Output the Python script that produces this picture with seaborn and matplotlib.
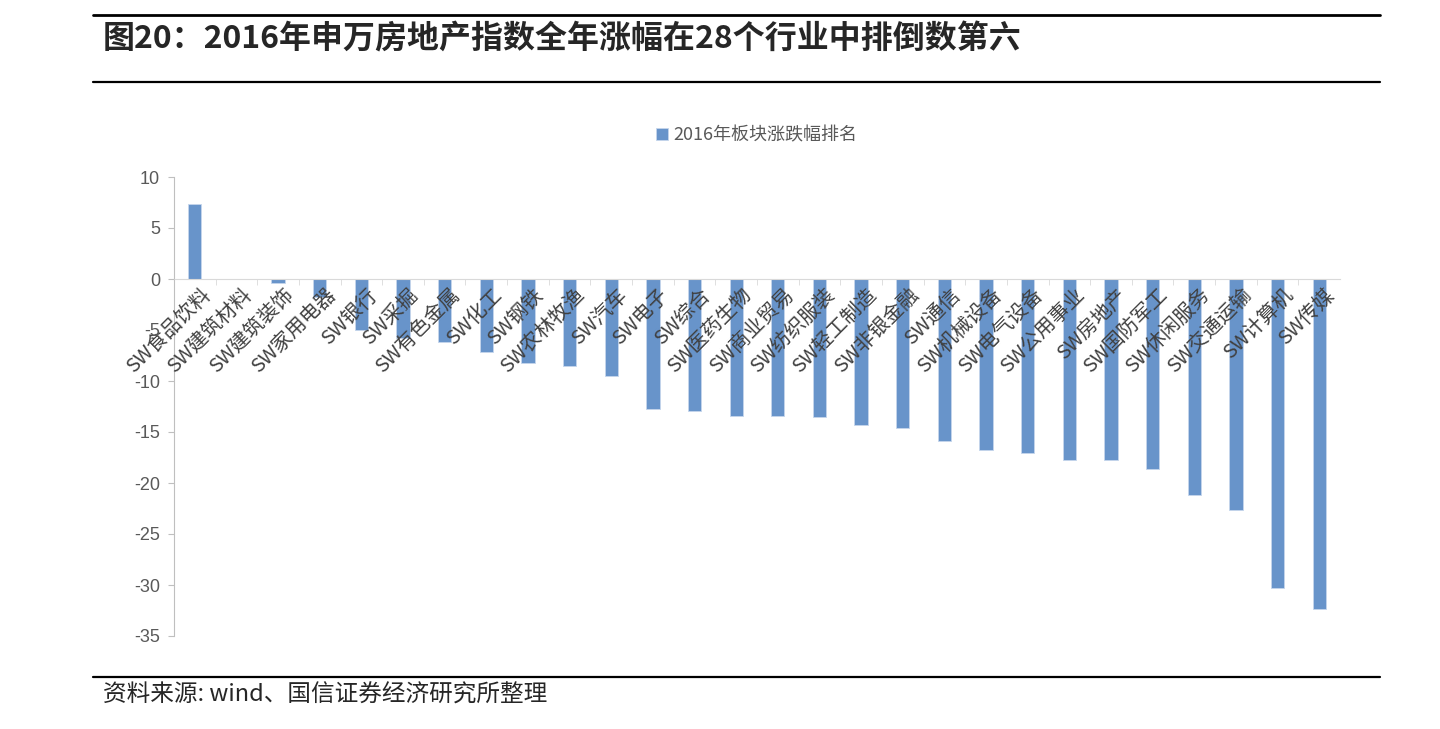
import matplotlib
matplotlib.use("Agg")
import matplotlib.pyplot as plt
import seaborn as sns
import pandas as pd
import numpy as np
from matplotlib.lines import Line2D
from matplotlib.ticker import FixedLocator

sns.set_style("white")
plt.rcParams['font.family'] = ['Noto Sans CJK SC', 'DejaVu Sans']

categories = ["SW食品饮料", "SW建筑材料", "SW建筑装饰", "SW家用电器", "SW银行", "SW采掘",
              "SW有色金属", "SW化工", "SW钢铁", "SW农林牧渔", "SW汽车", "SW电子", "SW综合",
              "SW医药生物", "SW商业贸易", "SW纺织服装", "SW轻工制造", "SW非银金融", "SW通信",
              "SW机械设备", "SW电气设备", "SW公用事业", "SW房地产", "SW国防军工", "SW休闲服务",
              "SW交通运输", "SW计算机", "SW传媒"]
values = [7.4, 0.02, -0.4, -1.8, -5.0, -5.8, -6.2, -7.2, -8.2, -8.5, -9.5, -12.7, -12.9,
          -13.4, -13.4, -13.5, -14.3, -14.6, -15.9, -16.8, -17.1, -17.7, -17.7, -18.6,
          -21.2, -22.6, -30.3, -32.4]
yticks = [10, 5, 0, -5, -10, -15, -20, -25, -30, -35]
series_name = "2016年板块涨跌幅排名"
title = "图20：2016年申万房地产指数全年涨幅在28个行业中排倒数第六"
source = "资料来源: wind、国信证券经济研究所整理"

df = pd.DataFrame({"cat": categories, "val": values})

W, H = 1440, 729
fig = plt.figure(figsize=(W / 100, H / 100), dpi=100)
ax = fig.add_axes([174 / W, (H - 636) / H, (1340 - 174) / W, (636 - 177) / H])

sns.barplot(data=df, x="cat", y="val", color="#6894CA", width=0.32, ax=ax,
            label=series_name, saturation=1, edgecolor="#C5D6EC", linewidth=0.6)
ax.set_axisbelow(False)

ax.set_ylim(-35, 10)
ax.set_xlim(-0.5, len(categories) - 0.5)
ax.set_yticks(yticks)
ax.set_yticklabels([str(v) for v in yticks], fontsize=13, color="#595959",
                   family=['Liberation Sans', 'DejaVu Sans'])
ax.set_xlabel("")
ax.set_ylabel("")

for s in ["top", "right"]:
    ax.spines[s].set_visible(False)
ax.spines["left"].set_color("#BFBFBF")
ax.spines["bottom"].set_color("#D9D9D9")
ax.spines["bottom"].set_position(("data", 0))
ax.tick_params(axis="y", length=4, color="#BFBFBF", left=True, pad=6)
ax.tick_params(axis="x", which="major", length=0, pad=4)
ax.xaxis.set_minor_locator(FixedLocator(np.arange(0.5, len(categories) - 0.5, 1.0)))
ax.tick_params(axis="x", which="minor", length=4, color="#D9D9D9", bottom=True)

ax.set_xticks(range(len(categories)))
ax.set_xticklabels(categories, rotation=45, ha="right", va="top",
                   rotation_mode="anchor", fontsize=14.5, color="#404040")
for lbl in ax.get_xticklabels():
    lbl.set_transform(lbl.get_transform() + matplotlib.transforms.ScaledTranslation(0.05, 0, fig.dpi_scale_trans))

leg = ax.legend(loc="upper center", bbox_to_anchor=(0.5, 1.0 + (177 - 110) / (636 - 177)),
                frameon=False, fontsize=13, handlelength=0.65, handleheight=0.65,
                handletextpad=0.3)
for t in leg.get_texts():
    t.set_color("#595959")

# title & rules
fig.text(103 / W, 1 - 40 / H, title, fontsize=23, fontweight="bold", va="center", ha="left")
fig.add_artist(Line2D([93 / W, 1380 / W], [1 - 15 / H, 1 - 15 / H], color="black", lw=2))
fig.add_artist(Line2D([93 / W, 1380 / W], [1 - 82 / H, 1 - 82 / H], color="black", lw=1.6))
fig.add_artist(Line2D([93 / W, 1380 / W], [1 - 677 / H, 1 - 677 / H], color="black", lw=1.6))
fig.text(103 / W, 1 - 695 / H, source, fontsize=17, va="center", ha="left")

fig.savefig("out.png", dpi=100)
